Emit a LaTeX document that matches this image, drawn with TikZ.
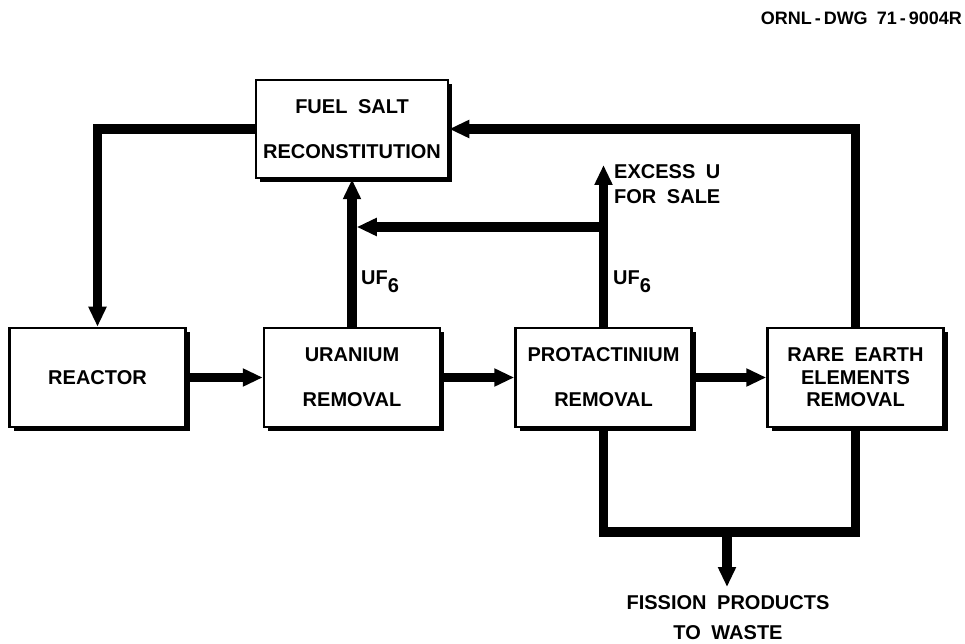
\documentclass[tikz,border=0pt]{standalone}
\usepackage{fontspec}
\setmainfont{Liberation Sans}[WordSpace=1.9]
\usetikzlibrary{arrows.meta,shadows}
\begin{document}
\begin{tikzpicture}[x=1pt,y=1pt,
  box/.style={draw,line width=2.5pt,fill=white,minimum width=176pt,minimum height=99pt,
    align=center,inner sep=0pt,
    drop shadow={shadow xshift=4pt,shadow yshift=-4pt,fill=black,opacity=1}},
  txt/.style={font=\bfseries\fontsize{20}{45}\selectfont},
  flow/.style={line width=9.5pt},
  tip/.style={-{Triangle[width=17pt,length=20pt]}},
  lbl/.style={font=\bfseries\fontsize{20}{25}\selectfont,inner sep=0pt}]
\fill[white] (0,0) rectangle (965,643);
\useasboundingbox (0,0) rectangle (965,643);

% boxes
\node[box,txt,minimum width=192pt,minimum height=98pt] (fuel) at (352,514) {FUEL SALT\\RECONSTITUTION};
\node[box,txt] (reactor) at (97.5,265.5) {REACTOR};
\node[box,txt] (uranium) at (352,265.5) {URANIUM\\REMOVAL};
\node[box,txt] (prot) at (603.5,265.5) {PROTACTINIUM\\REMOVAL};
\node[box,font=\bfseries\fontsize{20}{22.5}\selectfont] (rare) at (855.5,265.5) {RARE EARTH\\ELEMENTS\\REMOVAL};

% coordinates
\coordinate (excess) at (603.5,478);
\coordinate (j) at (603.5,416);
\coordinate (bot) at (727,111);
\coordinate (waste) at (727,56);

% connectors
\draw[flow,tip] (reactor.east) -- (uranium.west);
\draw[flow,tip] (uranium.east) -- (prot.west);
\draw[flow,tip] (prot.east) -- (rare.west);
\draw[flow,tip] (fuel.west) -| (reactor.north);
\draw[flow,tip] (rare.north) |- (fuel.east);
\draw[flow,tip] (uranium.north) -- (fuel.south);
\draw[flow,tip] (prot.north) -- (excess);
\draw[flow,tip,shorten >=4.75pt] (j) -- (uranium.north |- j);
\draw[flow] (prot.south) |- (bot) -| (rare.south);
\draw[flow,tip] (bot) -- (waste);

% labels
\node[lbl,anchor=north west,align=left] (excessu) at (614,479) {EXCESS U\\FOR SALE};
\node[lbl,anchor=base west] (uf1) at (361,358) {UF\raisebox{-8pt}{6}};
\node[lbl,anchor=base west] (uf2) at (613,358) {UF\raisebox{-8pt}{6}};
\node[lbl,anchor=north,align=center,font=\bfseries\fontsize{20}{30}\selectfont] (fission) at (728,48) {FISSION PRODUCTS\\TO WASTE};
\node[font=\bfseries\fontsize{18}{18}\selectfont,anchor=base east,inner sep=0pt] (dwg) at (962,618) {ORNL\,-\,DWG\enspace 71\,-\,9004R};
\end{tikzpicture}
\end{document}
